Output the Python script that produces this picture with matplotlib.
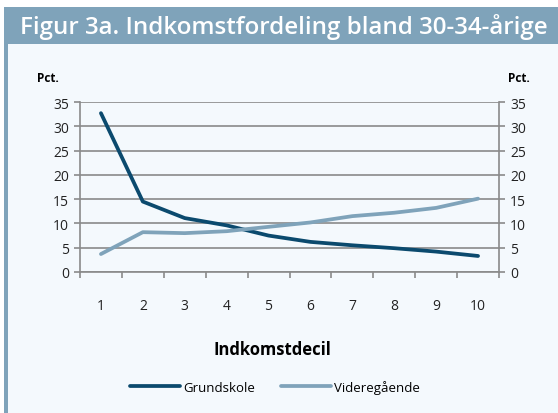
import matplotlib
matplotlib.use("Agg")
from matplotlib import pyplot as plt
from matplotlib.patches import Rectangle

plt.rcParams['font.family'] = ['Open Sans', 'DejaVu Sans']

decil = [1, 2, 3, 4, 5, 6, 7, 8, 9, 10]
grundskole = [32.7, 14.5, 11.1, 9.6, 7.5, 6.2, 5.5, 4.9, 4.2, 3.3]
videregaaende = [3.7, 8.2, 8.0, 8.4, 9.3, 10.2, 11.5, 12.2, 13.2, 15.1]
y_ticks = [0, 5, 10, 15, 20, 25, 30, 35]

dark = '#0b4a6e'
light = '#7fa3ba'
grey = '#8a8a8a'
bg = '#f4f9fd'

fig = plt.figure(figsize=(5.58, 4.14), dpi=100)
fig.patch.set_facecolor('white')

# panel background, header band and left stripe
fig.patches.append(Rectangle((4/558, 0), 554/558, (414-45)/414, transform=fig.transFigure,
                             facecolor=bg, edgecolor='none', zorder=0))
fig.patches.append(Rectangle((4/558, 0), 4/558, (414-45)/414, transform=fig.transFigure,
                             facecolor=light, edgecolor='none', zorder=1))
fig.patches.append(Rectangle((4/558, (414-45)/414), 554/558, 37/414, transform=fig.transFigure,
                             facecolor=light, edgecolor='none', zorder=1))
fig.text(20/558, (414-27)/414, 'Figur 3a. Indkomstfordeling bland 30-34-årige',
         color='white', fontsize=17.4, fontweight='semibold', va='center', ha='left')

ax = fig.add_axes([80/558, (414-273)/414, 419/558, 170/414])
ax.set_zorder(5)
ax.set_facecolor(bg)
ax.plot(decil, grundskole, color=dark, lw=2.7, label='Grundskole', solid_capstyle='round', zorder=3)
ax.plot(decil, videregaaende, color=light, lw=2.7, label='Videregående', solid_capstyle='round', zorder=3)

ax.set_xlim(0.5, 10.5)
ax.set_ylim(0, 35)
ax.set_yticks(y_ticks)
ax.set_xticks(decil)
ax.set_xticks([d - 0.5 for d in decil] + [10.5], minor=True)
ax.tick_params(axis='x', which='major', length=0, pad=19, labelsize=10, labelcolor='#222222')
ax.tick_params(axis='x', which='minor', length=4, width=1.2, color=grey, direction='out')
ax.tick_params(axis='y', length=4, width=1.2, color=grey, labelsize=10, labelcolor='#222222',
               left=True, right=True, labelleft=True, labelright=True, pad=4)
ax.yaxis.grid(True, color=grey, lw=1.2)
ax.set_axisbelow(True)
ax.spines['top'].set_visible(False)
for s in ['left', 'right', 'bottom']:
    ax.spines[s].set_color(grey)
    ax.spines[s].set_linewidth(1.2)

fig.text(48/558, (414-79)/414, 'Pct.', fontsize=8.5, fontweight='bold', ha='center', va='center')
fig.text(519/558, (414-79)/414, 'Pct.', fontsize=8.5, fontweight='bold', ha='center', va='center')
fig.text(272/558, (414-350)/414, 'Indkomstdecil', fontsize=12, fontweight='bold', ha='center', va='center')

fig.legend(loc='center', bbox_to_anchor=(275/558, (414-388)/414), ncol=2, frameon=False,
           fontsize=9.5, handlelength=3.8, handletextpad=0.2, columnspacing=2.0)

fig.savefig('out.png', dpi=100)
